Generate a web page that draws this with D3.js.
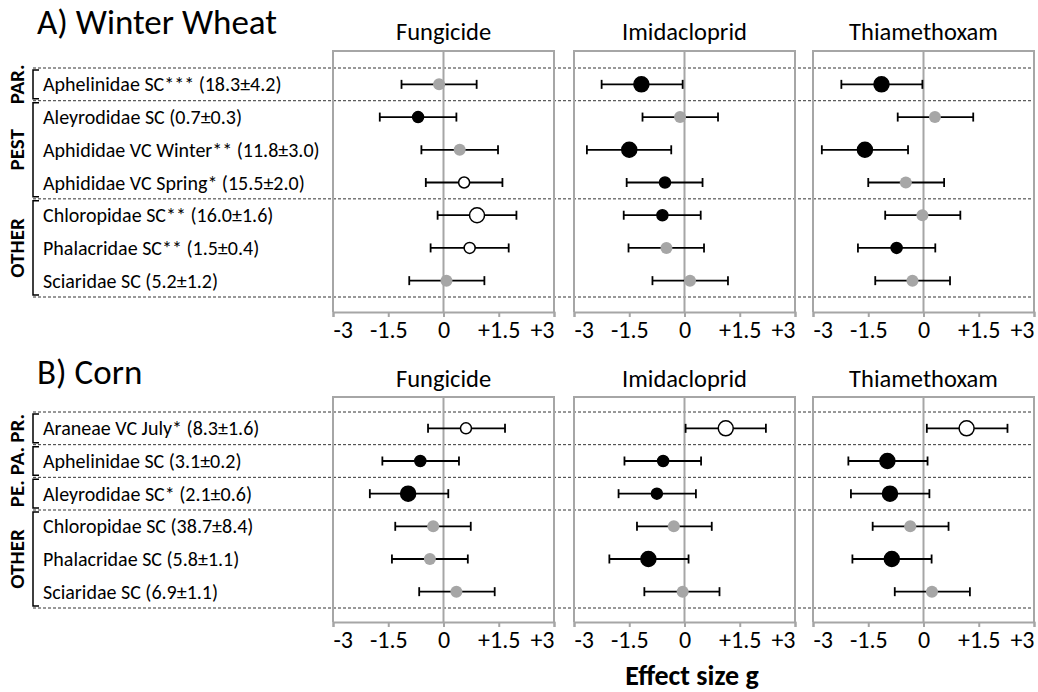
<!DOCTYPE html>
<html>
<head>
<meta charset="utf-8">
<script src="https://cdn.jsdelivr.net/npm/d3@7"></script>
<style>
  body { margin: 0; background: #fff; }
  svg { font-family: Calibri, Carlito, Lato, sans-serif; }
</style>
</head>
<body>
<div id="chart"></div>
<script>
// Effect sizes (Hedges' g) with 95% CI, per crop and pesticide

var pesticides = ["Fungicide", "Imidacloprid", "Thiamethoxam"];
var tickValues = [-3, -1.5, 0, 1.5, 3];
var tickLabels = ["-3", "-1.5", "0", "+1.5", "+3"];

// A) Winter wheat
var wheatTaxa = ["Aphelinidae SC*** (18.3±4.2)", "Aleyrodidae SC (0.7±0.3)",
  "Aphididae VC Winter** (11.8±3.0)", "Aphididae VC Spring* (15.5±2.0)",
  "Chloropidae SC** (16.0±1.6)", "Phalacridae SC** (1.5±0.4)", "Sciaridae SC (5.2±1.2)"];
var wheatGroups = ["PAR.", "PEST", "OTHER"];
var wheatGroupSizes = [1, 3, 3];
// one inner array per pesticide
var wheatG = [
  [-0.12, -0.69, 0.44, 0.56, 0.91, 0.71, 0.08],
  [-1.17, -0.12, -1.50, -0.53, -0.60, -0.49, 0.15],
  [-1.14, 0.31, -1.59, -0.48, -0.03, -0.73, -0.30]];
var wheatLow = [
  [-1.14, -1.73, -0.60, -0.48, -0.16, -0.35, -0.93],
  [-2.25, -1.14, -2.65, -1.57, -1.65, -1.52, -0.87],
  [-2.23, -0.70, -2.76, -1.50, -1.04, -1.78, -1.31]];
var wheatHigh = [
  [0.90, 0.35, 1.48, 1.60, 1.98, 1.77, 1.11],
  [-0.05, 0.91, -0.36, 0.49, 0.44, 0.53, 1.18],
  [-0.03, 1.35, -0.42, 0.56, 1.00, 0.32, 0.72]];
var wheatEffect = [
  ["ns", "dec", "ns", "inc", "inc", "inc", "ns"],
  ["dec", "ns", "dec", "dec", "dec", "ns", "ns"],
  ["dec", "ns", "dec", "ns", "ns", "dec", "ns"]];
var wheatStrong = [
  [0, 0, 0, 0, 1, 0, 0],
  [1, 0, 1, 0, 0, 0, 0],
  [1, 0, 1, 0, 0, 0, 0]];

// B) Corn
var cornTaxa = ["Araneae VC July* (8.3±1.6)", "Aphelinidae SC (3.1±0.2)",
  "Aleyrodidae SC* (2.1±0.6)", "Chloropidae SC (38.7±8.4)",
  "Phalacridae SC (5.8±1.1)", "Sciaridae SC (6.9±1.1)"];
var cornGroups = ["PR.", "PA.", "PE.", "OTHER"];
var cornGroupSizes = [1, 1, 1, 3];
var cornG = [
  [0.61, -0.63, -0.96, -0.28, -0.37, 0.35],
  [1.12, -0.58, -0.75, -0.29, -0.98, -0.05],
  [1.17, -0.98, -0.91, -0.36, -0.86, 0.23]];
var cornLow = [
  [-0.42, -1.66, -2.00, -1.31, -1.40, -0.66],
  [0.03, -1.63, -1.79, -1.29, -2.04, -1.09],
  [0.09, -2.04, -1.97, -1.38, -1.93, -0.78]];
var cornHigh = [
  [1.67, 0.42, 0.13, 0.74, 0.66, 1.39],
  [2.21, 0.45, 0.31, 0.74, 0.11, 0.95],
  [2.28, 0.11, 0.16, 0.68, 0.22, 1.26]];
var cornEffect = [
  ["inc", "dec", "dec", "ns", "ns", "ns"],
  ["inc", "dec", "dec", "ns", "dec", "ns"],
  ["inc", "dec", "dec", "ns", "dec", "ns"]];
var cornStrong = [
  [0, 0, 1, 0, 0, 0],
  [1, 0, 0, 0, 1, 0],
  [1, 1, 1, 0, 1, 0]];

var width = 1038, height = 692;
var grey = "#a6a6a6";
var panelX = [333, 574, 813], panelW = 221;
var fillColor = d3.scaleOrdinal().domain(["dec", "ns", "inc"]).range(["#000", grey, "#fff"]);

var svg = d3.select("#chart").append("svg")
  .attr("width", width)
  .attr("height", height);

function drawSection(s) {
  var g = svg.append("g");

  // crop title
  g.append("text")
    .attr("x", 37).attr("y", s.titleY)
    .style("font-size", "35px")
    .text(s.title);

  var y = d3.scaleBand()
    .domain(d3.range(s.taxa.length))
    .range([s.rowsTop, s.rowsBottom]);

  // dashed separators at group boundaries
  var bounds = [0];
  s.groupSizes.forEach(function(n, i) { bounds.push(bounds[i] + n); });
  var step = y.step();
  g.selectAll(".sep").data(bounds).enter().append("line")
    .attr("x1", 33).attr("x2", 1034)
    .attr("y1", function(d) { return s.rowsTop + d * step; })
    .attr("y2", function(d) { return s.rowsTop + d * step; })
    .style("stroke", "#333")
    .style("stroke-width", 1)
    .style("stroke-dasharray", "3,2");

  // group brackets and labels
  s.groups.forEach(function(name, i) {
    var y1 = s.rowsTop + bounds[i] * step + 2,
        y2 = s.rowsTop + bounds[i + 1] * step - 2;
    g.append("path")
      .attr("d", "M39," + y1 + "H33V" + y2 + "H39")
      .style("fill", "none").style("stroke", "#000").style("stroke-width", 1.5);
    g.append("text")
      .attr("transform", "translate(17," + ((y1 + y2) / 2) + ") rotate(-90)")
      .attr("text-anchor", "middle")
      .attr("dominant-baseline", "central")
      .style("font-size", "21px")
      .style("font-weight", "bold")
      .text(name);
  });

  // taxon labels
  g.selectAll(".taxon").data(s.taxa).enter().append("text")
    .attr("x", 43)
    .attr("y", function(d, i) { return y(i) + y.bandwidth() / 2; })
    .attr("dominant-baseline", "central")
    .style("font-size", "20px")
    .text(function(d) { return d; });

  pesticides.forEach(function(p, k) {
    var x = d3.scaleLinear().domain([-3, 3]).range([panelX[k], panelX[k] + panelW]);
    var pg = g.append("g");

    pg.append("text")
      .attr("x", x(0)).attr("y", s.headY)
      .attr("text-anchor", "middle")
      .style("font-size", "24.5px")
      .text(p);

    // frame (top + sides), bottom is the axis
    pg.append("path")
      .attr("d", "M" + x(-3) + "," + s.axisY + "V" + s.boxTop + "H" + x(3) + "V" + s.axisY)
      .style("fill", "none").style("stroke", grey).style("stroke-width", 2);
    pg.append("line")
      .attr("x1", x(0)).attr("x2", x(0))
      .attr("y1", s.boxTop).attr("y2", s.axisY)
      .style("stroke", grey).style("stroke-width", 2);

    var ax = pg.append("g")
      .attr("transform", "translate(0," + s.axisY + ")")
      .call(d3.axisBottom(x).tickValues(tickValues).tickSize(5).tickSizeOuter(5)
        .tickFormat(function(d, i) { return tickLabels[i]; }));
    ax.select(".domain").style("stroke", grey).style("stroke-width", 2);
    ax.selectAll(".tick line").style("stroke", grey).style("stroke-width", 2);
    ax.selectAll(".tick text")
      .attr("y", 9)
      .style("font-family", "Calibri, Carlito, Lato, sans-serif")
      .style("font-size", "24px")
      .style("fill", "#000")
      .attr("text-anchor", function(d) { return d === -3 ? "start" : d === 3 ? "end" : "middle"; });

    var rows = s.taxa.map(function(t, i) {
      return { i: i, g: s.g[k][i], lo: s.low[k][i], hi: s.high[k][i],
               eff: s.effect[k][i], strong: s.strong[k][i] };
    });
    var r = function(d) { return d.strong ? 7.5 : (d.eff === "ns" ? 6 : 5.5); };
    var cy = function(d) { return y(d.i) + y.bandwidth() / 2; };

    var bars = pg.selectAll(".ci").data(rows).enter().append("g");
    bars.append("line")
      .attr("x1", function(d) { return x(d.lo); })
      .attr("x2", function(d) { return x(d.hi); })
      .attr("y1", cy).attr("y2", cy)
      .style("stroke", "#000").style("stroke-width", 1.8);
    bars.append("line")
      .attr("x1", function(d) { return x(d.lo); })
      .attr("x2", function(d) { return x(d.lo); })
      .attr("y1", function(d) { return cy(d) - 4.5; })
      .attr("y2", function(d) { return cy(d) + 4.5; })
      .style("stroke", "#000").style("stroke-width", 1.8);
    bars.append("line")
      .attr("x1", function(d) { return x(d.hi); })
      .attr("x2", function(d) { return x(d.hi); })
      .attr("y1", function(d) { return cy(d) - 4.5; })
      .attr("y2", function(d) { return cy(d) + 4.5; })
      .style("stroke", "#000").style("stroke-width", 1.8);
    bars.append("circle")
      .attr("cx", function(d) { return x(d.g); })
      .attr("cy", cy)
      .attr("r", r)
      .style("fill", function(d) { return fillColor(d.eff); })
      .style("stroke", function(d) { return d.eff === "ns" ? "none" : "#000"; })
      .style("stroke-width", 1.5);
  });
}

drawSection({
  title: "A) Winter Wheat", titleY: 34, headY: 40, boxTop: 51,
  rowsTop: 68, rowsBottom: 297, axisY: 312,
  taxa: wheatTaxa, groups: wheatGroups, groupSizes: wheatGroupSizes,
  g: wheatG, low: wheatLow, high: wheatHigh, effect: wheatEffect, strong: wheatStrong
});

drawSection({
  title: "B) Corn", titleY: 384, headY: 387, boxTop: 397,
  rowsTop: 412, rowsBottom: 608, axisY: 622,
  taxa: cornTaxa, groups: cornGroups, groupSizes: cornGroupSizes,
  g: cornG, low: cornLow, high: cornHigh, effect: cornEffect, strong: cornStrong
});

// x axis title
svg.append("text")
  .attr("x", 692).attr("y", 685)
  .attr("text-anchor", "middle")
  .style("font-size", "28px")
  .style("font-weight", "bold")
  .text("Effect size g");
</script>
</body>
</html>
